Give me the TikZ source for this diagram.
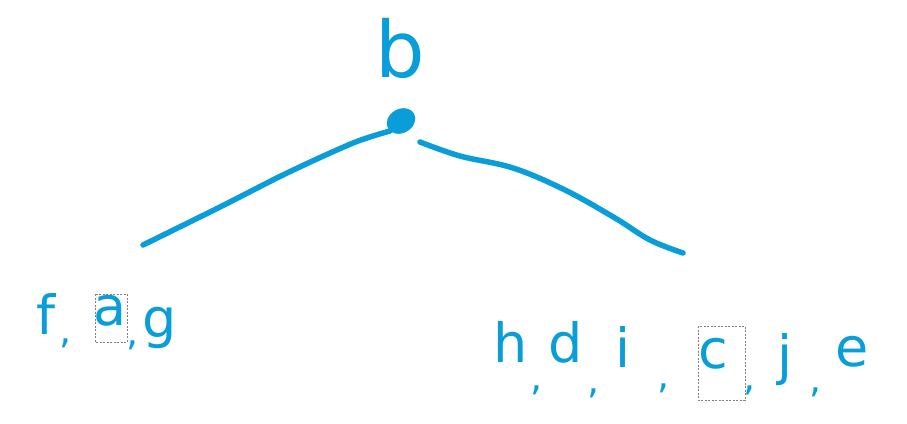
\documentclass[tikz,border=0pt]{standalone}
\usepackage{fontspec}
\setmainfont{DejaVu Sans}
\definecolor{ink}{RGB}{10,158,217}
\begin{document}
\begin{tikzpicture}[x=1pt,y=-1pt,
  stroke/.style={draw=ink,line width=5.5pt,line cap=round,line join=round},
  lbl/.style={text=ink,inner sep=0pt,font=\fontsize{54}{54}\selectfont},
  commalbl/.style={text=ink,inner sep=0pt,font=\fontsize{38}{38}\selectfont},
  hl/.style={draw=gray,line width=0.7pt,dash pattern=on 2pt off 1.5pt}]
\useasboundingbox (0,0) rectangle (907,423);
% root
\node[text=ink,inner sep=0pt,font=\fontsize{78}{78}\selectfont] (b) at (400,48) {b};
\fill[ink,rotate around={30:(401,121)}] (401,121) ellipse [x radius=15pt,y radius=12pt];
\coordinate (root) at (390,131);
\coordinate (rootr) at (420,142);
\coordinate (lend) at (143,245);
\coordinate (rend) at (683,253);
\draw[stroke] plot[smooth] coordinates {(lend) (220,207) (287,173) (353,143) (root)};
\draw[stroke] plot[smooth,tension=0.6] coordinates {(rootr) (460,156) (513,168) (565,190) (615,218) (650,240) (rend)};
% left label
\node[lbl] (f) at (46,314) {f};
\node[commalbl] (c1) at (66,343) {,};
\node[lbl] (a) at (110,311) {a};
\node[commalbl] (c2) at (133,345) {,};
\node[lbl] (g) at (160,328) {g};
\draw[hl] (95,294) rectangle (127,342);
% right label
\node[lbl] (h) at (511,342) {h};
\node[commalbl] (c3) at (537,390) {,};
\node[lbl] (d) at (566,342) {d};
\node[commalbl] (c4) at (594,393) {,};
\node[lbl] (i) at (623,347) {i};
\node[commalbl] (c5) at (664,388) {,};
\node[lbl] (c) at (713,354) {c};
\node[commalbl] (c6) at (750,390) {,};
\node[lbl] (j) at (785,360) {j};
\node[commalbl] (c7) at (816,392) {,};
\node[lbl] (e) at (852,352) {e};
\draw[hl] (698,326) rectangle (745,400);
\end{tikzpicture}
\end{document}
